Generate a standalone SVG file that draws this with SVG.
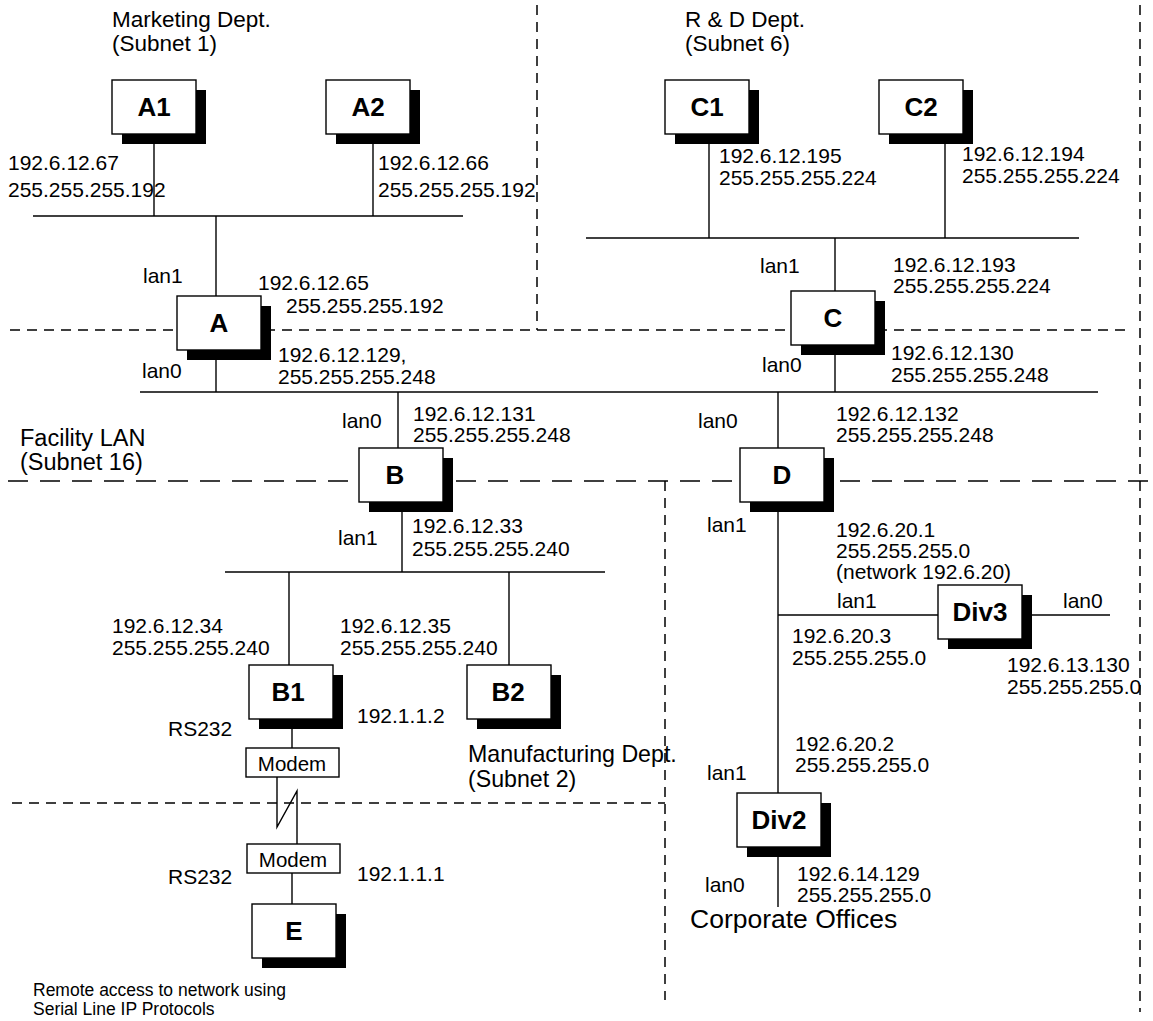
<svg xmlns="http://www.w3.org/2000/svg" width="1153" height="1021" viewBox="0 0 1153 1021">
  <defs>
    <style>
      text { font-family: "Liberation Sans", Arial, sans-serif; fill: #000; }
      .ip { font-size: 21px; }
      .title { font-size: 22.5px; }
      .big { font-size: 26.5px; }
      .note { font-size: 17.5px; }
      .lbl { font-size: 26px; font-weight: bold; text-anchor: middle; }
      .modem { font-size: 20.5px; text-anchor: middle; }
      .wire { stroke: #000; stroke-width: 1.4; fill: none; }
      .zone { stroke: #000; stroke-width: 1.5; fill: none; stroke-dasharray: 10 7; }
      .zone-long { stroke: #000; stroke-width: 1.5; fill: none; stroke-dasharray: 20 12; }
      .box { fill: #fff; stroke: #000; stroke-width: 1.4; }
      .shadow { fill: #000; }
    </style>
    <!-- router / host box with drop shadow -->
    <g id="host">
      <rect class="shadow" x="10" y="10" width="84" height="54"/>
      <rect class="box" x="0" y="0" width="84" height="54"/>
    </g>
  </defs>

  <rect width="1153" height="1021" fill="#fff"/>

  <!-- subnet boundaries -->
  <g id="boundaries">
    <line class="zone" x1="537" y1="5" x2="537" y2="330"/>
    <line class="zone" x1="1140" y1="5" x2="1140" y2="1012"/>
    <line class="zone" x1="10" y1="330" x2="1125" y2="330"/>
    <line class="zone-long" x1="8" y1="481" x2="1153" y2="481"/>
    <line class="zone" x1="665" y1="481" x2="665" y2="1000"/>
    <line class="zone" x1="12" y1="803" x2="665" y2="803"/>
  </g>

  <!-- network segments and links -->
  <g id="connectors">
    <!-- Marketing LAN -->
    <line class="wire" x1="33" y1="216" x2="463" y2="216"/>
    <line class="wire" x1="154" y1="135" x2="154" y2="216"/>
    <line class="wire" x1="373" y1="135" x2="373" y2="216"/>
    <line class="wire" x1="216" y1="216" x2="216" y2="296"/>
    <line class="wire" x1="216" y1="349" x2="216" y2="392"/>
    <!-- R&D LAN -->
    <line class="wire" x1="586" y1="238" x2="1079" y2="238"/>
    <line class="wire" x1="709" y1="135" x2="709" y2="238"/>
    <line class="wire" x1="945" y1="135" x2="945" y2="238"/>
    <line class="wire" x1="835" y1="238" x2="835" y2="291"/>
    <line class="wire" x1="835" y1="344" x2="835" y2="392"/>
    <!-- Facility LAN backbone -->
    <line class="wire" x1="140" y1="392" x2="1098" y2="392"/>
    <line class="wire" x1="398" y1="392" x2="398" y2="448"/>
    <line class="wire" x1="778" y1="392" x2="778" y2="448"/>
    <!-- Manufacturing LAN -->
    <line class="wire" x1="402" y1="501" x2="402" y2="572"/>
    <line class="wire" x1="225" y1="572" x2="605" y2="572"/>
    <line class="wire" x1="289" y1="572" x2="289" y2="665"/>
    <line class="wire" x1="509" y1="572" x2="509" y2="665"/>
    <!-- Serial line to E -->
    <line class="wire" x1="292" y1="728" x2="292" y2="748"/>
    <polyline class="wire" points="277,777 277,827 297,791 297,844"/>
    <line class="wire" x1="292" y1="873" x2="292" y2="904"/>
    <!-- Corporate network -->
    <line class="wire" x1="778" y1="502" x2="778" y2="793"/>
    <line class="wire" x1="778" y1="615" x2="938" y2="615"/>
    <line class="wire" x1="1022" y1="615" x2="1110" y2="615"/>
    <line class="wire" x1="778" y1="846" x2="778" y2="907"/>
  </g>

  <!-- hosts and routers -->
  <g id="node-A1"><use href="#host" x="112" y="80"/><text class="lbl" x="154" y="116">A1</text></g>
  <g id="node-A2"><use href="#host" x="326" y="80"/><text class="lbl" x="368" y="116">A2</text></g>
  <g id="node-A"><use href="#host" x="177" y="296"/><text class="lbl" x="219" y="332">A</text></g>
  <g id="node-C1"><use href="#host" x="665" y="80"/><text class="lbl" x="707" y="116">C1</text></g>
  <g id="node-C2"><use href="#host" x="879" y="80"/><text class="lbl" x="921" y="116">C2</text></g>
  <g id="node-C"><use href="#host" x="791" y="291"/><text class="lbl" x="833" y="327">C</text></g>
  <g id="node-B"><use href="#host" x="359" y="448"/><text class="lbl" x="395" y="484">B</text></g>
  <g id="node-D"><use href="#host" x="740" y="448"/><text class="lbl" x="782" y="484">D</text></g>
  <g id="node-B1"><use href="#host" x="249" y="665"/><text class="lbl" x="288" y="701">B1</text></g>
  <g id="node-B2"><use href="#host" x="467" y="665"/><text class="lbl" x="508" y="701">B2</text></g>
  <g id="node-Div3"><use href="#host" x="938" y="585"/><text class="lbl" x="980" y="621">Div3</text></g>
  <g id="node-Div2"><use href="#host" x="737" y="793"/><text class="lbl" x="779" y="829">Div2</text></g>
  <g id="node-E"><use href="#host" x="252" y="904"/><text class="lbl" x="294" y="940">E</text></g>
  <g id="modem-1"><rect class="box" x="246" y="748" width="93" height="29"/><text class="modem" x="292" y="771">Modem</text></g>
  <g id="modem-2"><rect class="box" x="247" y="844" width="93" height="29"/><text class="modem" x="293" y="867">Modem</text></g>

  <!-- area titles -->
  <g id="titles">
    <text class="title" x="112" y="27">Marketing Dept.</text>
    <text class="title" x="112" y="51">(Subnet 1)</text>
    <text class="title" x="685" y="27">R &amp; D Dept.</text>
    <text class="title" x="685" y="51">(Subnet 6)</text>
    <text class="title" x="20" y="446" style="font-size:23.5px">Facility LAN</text>
    <text class="title" x="20" y="470" style="font-size:23.5px">(Subnet 16)</text>
    <text class="title" x="468" y="762" style="font-size:23.2px">Manufacturing Dept.</text>
    <text class="title" x="468" y="787" style="font-size:23.2px">(Subnet 2)</text>
    <text class="big" x="690" y="928">Corporate Offices</text>
    <text class="note" x="33" y="996">Remote access to network using</text>
    <text class="note" x="33" y="1015">Serial Line IP Protocols</text>
  </g>

  <!-- addresses and interface names -->
  <g id="addresses">
    <text class="ip" x="8" y="170">192.6.12.67</text>
    <text class="ip" x="8" y="197">255.255.255.192</text>
    <text class="ip" x="378" y="170">192.6.12.66</text>
    <text class="ip" x="378" y="197">255.255.255.192</text>

    <text class="ip" x="719" y="163">192.6.12.195</text>
    <text class="ip" x="719" y="185">255.255.255.224</text>
    <text class="ip" x="962" y="161">192.6.12.194</text>
    <text class="ip" x="962" y="183">255.255.255.224</text>

    <text class="ip" x="143" y="283">lan1</text>
    <text class="ip" x="258" y="290">192.6.12.65</text>
    <text class="ip" x="286" y="313">255.255.255.192</text>
    <text class="ip" x="142" y="378">lan0</text>
    <text class="ip" x="278" y="362">192.6.12.129,</text>
    <text class="ip" x="278" y="384">255.255.255.248</text>

    <text class="ip" x="760" y="273">lan1</text>
    <text class="ip" x="893" y="272">192.6.12.193</text>
    <text class="ip" x="893" y="293">255.255.255.224</text>
    <text class="ip" x="762" y="372">lan0</text>
    <text class="ip" x="891" y="360">192.6.12.130</text>
    <text class="ip" x="891" y="382">255.255.255.248</text>

    <text class="ip" x="342" y="428">lan0</text>
    <text class="ip" x="413" y="421">192.6.12.131</text>
    <text class="ip" x="413" y="442">255.255.255.248</text>
    <text class="ip" x="698" y="428">lan0</text>
    <text class="ip" x="836" y="421">192.6.12.132</text>
    <text class="ip" x="836" y="442">255.255.255.248</text>

    <text class="ip" x="338" y="545">lan1</text>
    <text class="ip" x="412" y="533">192.6.12.33</text>
    <text class="ip" x="412" y="556">255.255.255.240</text>
    <text class="ip" x="112" y="633">192.6.12.34</text>
    <text class="ip" x="112" y="655">255.255.255.240</text>
    <text class="ip" x="340" y="633">192.6.12.35</text>
    <text class="ip" x="340" y="655">255.255.255.240</text>

    <text class="ip" x="168" y="736">RS232</text>
    <text class="ip" x="357" y="723">192.1.1.2</text>
    <text class="ip" x="168" y="884">RS232</text>
    <text class="ip" x="357" y="881">192.1.1.1</text>

    <text class="ip" x="707" y="532">lan1</text>
    <text class="ip" x="836" y="537">192.6.20.1</text>
    <text class="ip" x="836" y="558">255.255.255.0</text>
    <text class="ip" x="836" y="579">(network 192.6.20)</text>
    <text class="ip" x="837" y="608">lan1</text>
    <text class="ip" x="1063" y="608">lan0</text>
    <text class="ip" x="792" y="643">192.6.20.3</text>
    <text class="ip" x="792" y="665">255.255.255.0</text>
    <text class="ip" x="1007" y="672">192.6.13.130</text>
    <text class="ip" x="1007" y="694">255.255.255.0</text>

    <text class="ip" x="707" y="780">lan1</text>
    <text class="ip" x="795" y="751">192.6.20.2</text>
    <text class="ip" x="795" y="772">255.255.255.0</text>
    <text class="ip" x="705" y="892">lan0</text>
    <text class="ip" x="797" y="881">192.6.14.129</text>
    <text class="ip" x="797" y="902">255.255.255.0</text>
  </g>
</svg>
